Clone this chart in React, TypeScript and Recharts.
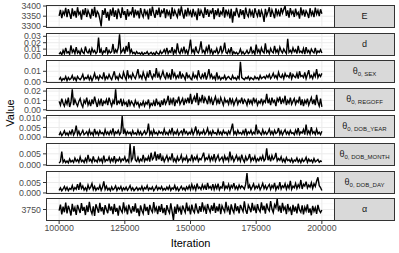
import { LineChart, Line, XAxis, YAxis, ReferenceLine } from "recharts";

// thinned MCMC draws, one every 500 iterations
const ITER_START = 100000;
const ITER_STEP = 500;

const E_VALUES = [
  3352, 3381, 3340, 3372, 3358, 3391, 3345, 3385, 3362, 3337, 3388, 3350, 3376, 3343, 3394, 3359, 3370, 3333, 3383, 3355,
  3390, 3346, 3378, 3361, 3338, 3386, 3352, 3396, 3344, 3374, 3363, 3335, 3300, 3380, 3357, 3389, 3342, 3371, 3328, 3384,
  3353, 3392, 3347, 3379, 3336, 3387, 3365, 3341, 3393, 3356, 3375, 3332, 3385, 3349, 3370, 3360, 3395, 3343, 3382, 3354,
  3377, 3339, 3390, 3362, 3346, 3386, 3358, 3373, 3334, 3388, 3351, 3397, 3364, 3342, 3381, 3356, 3392, 3345, 3376, 3366,
  3389, 3340, 3383, 3357, 3372, 3336, 3394, 3350, 3378, 3361, 3345, 3387, 3353, 3398, 3363, 3338, 3382, 3349, 3391, 3359,
  3374, 3344, 3386, 3355, 3368, 3331, 3389, 3352, 3379, 3362, 3341, 3393, 3357, 3384, 3347, 3375, 3365, 3390, 3336, 3380,
  3354, 3388, 3346, 3371, 3360, 3395, 3343, 3382, 3358, 3376, 3339, 3386, 3318, 3373, 3351, 3391, 3364, 3344, 3385, 3356,
  3380, 3337, 3392, 3361, 3348, 3387, 3355, 3374, 3342, 3389, 3366, 3350, 3383, 3345, 3378, 3359, 3322, 3386, 3353, 3371,
  3394, 3347, 3381, 3362, 3340, 3388, 3357, 3376, 3349, 3391, 3365, 3384, 3400, 3352, 3379, 3343, 3390, 3361, 3374, 3346,
  3387, 3358, 3369, 3338, 3393, 3354, 3382, 3348, 3376, 3363, 3341, 3389, 3356, 3372, 3345, 3392, 3360, 3379, 3350, 3384,
  3362,
];

const D_VALUES = [
  0.002, 0.005, 0.001, 0.008, 0.003, 0.012, 0.004, 0.006, 0.002, 0.016, 0.005, 0.009, 0.003, 0.013, 0.004, 0.007, 0.002, 0.010, 0.005, 0.003,
  0.014, 0.006, 0.004, 0.009, 0.002, 0.011, 0.005, 0.008, 0.003, 0.006, 0.028, 0.004, 0.010, 0.002, 0.007, 0.005, 0.013, 0.003, 0.008, 0.004,
  0.006, 0.018, 0.003, 0.009, 0.005, 0.012, 0.033, 0.004, 0.007, 0.011, 0.003, 0.015, 0.006, 0.021, 0.004, 0.009, 0.003, 0.005, 0.002, 0.006,
  0.003, 0.004, 0.002, 0.005, 0.001, 0.004, 0.003, 0.006, 0.002, 0.003, 0.005, 0.002, 0.004, 0.001, 0.006, 0.003, 0.002, 0.007, 0.003, 0.005,
  0.009, 0.004, 0.012, 0.003, 0.007, 0.005, 0.013, 0.002, 0.008, 0.004, 0.019, 0.006, 0.003, 0.010, 0.005, 0.014, 0.004, 0.008, 0.002, 0.011,
  0.025, 0.005, 0.009, 0.003, 0.014, 0.006, 0.004, 0.010, 0.022, 0.005, 0.008, 0.003, 0.012, 0.006, 0.017, 0.004, 0.009, 0.002, 0.007, 0.005,
  0.011, 0.003, 0.006, 0.015, 0.004, 0.008, 0.020, 0.005, 0.003, 0.009, 0.004, 0.013, 0.002, 0.006, 0.003, 0.005, 0.002, 0.004, 0.010, 0.003,
  0.006, 0.002, 0.004, 0.008, 0.003, 0.005, 0.014, 0.004, 0.007, 0.002, 0.017, 0.005, 0.009, 0.003, 0.012, 0.006, 0.004, 0.019, 0.005, 0.008,
  0.003, 0.011, 0.006, 0.004, 0.015, 0.005, 0.009, 0.003, 0.013, 0.007, 0.004, 0.010, 0.006, 0.003, 0.026, 0.005, 0.008, 0.004, 0.012, 0.006,
  0.009, 0.003, 0.015, 0.005, 0.007, 0.004, 0.011, 0.002, 0.013, 0.005, 0.008, 0.003, 0.010, 0.006, 0.004, 0.012, 0.003, 0.007, 0.005, 0.009,
  0.004,
];

const SEX_VALUES = [
  0.002, 0.004, 0.001, 0.003, 0.002, 0.005, 0.001, 0.004, 0.002, 0.003, 0.006, 0.002, 0.004, 0.001, 0.005, 0.003, 0.002, 0.004, 0.007, 0.002,
  0.004, 0.003, 0.006, 0.002, 0.005, 0.001, 0.004, 0.008, 0.003, 0.005, 0.002, 0.006, 0.004, 0.003, 0.009, 0.002, 0.005, 0.003, 0.007, 0.004,
  0.002, 0.006, 0.010, 0.003, 0.005, 0.002, 0.007, 0.004, 0.003, 0.009, 0.005, 0.002, 0.011, 0.004, 0.006, 0.003, 0.008, 0.005, 0.003, 0.007,
  0.012, 0.004, 0.006, 0.003, 0.009, 0.005, 0.002, 0.008, 0.004, 0.011, 0.006, 0.003, 0.007, 0.005, 0.013, 0.004, 0.008, 0.003, 0.006, 0.010,
  0.005, 0.003, 0.009, 0.004, 0.007, 0.002, 0.012, 0.005, 0.008, 0.003, 0.006, 0.004, 0.010, 0.003, 0.007, 0.005, 0.002, 0.009, 0.004, 0.006,
  0.003, 0.002, 0.008, 0.004, 0.006, 0.003, 0.011, 0.005, 0.003, 0.007, 0.004, 0.009, 0.002, 0.006, 0.012, 0.004, 0.007, 0.003, 0.005, 0.002,
  0.009, 0.003, 0.005, 0.002, 0.004, 0.003, 0.006, 0.002, 0.004, 0.005, 0.003, 0.002, 0.006, 0.003, 0.004, 0.002, 0.005, 0.003, 0.019, 0.004,
  0.003, 0.002, 0.004, 0.003, 0.005, 0.002, 0.004, 0.003, 0.002, 0.005, 0.003, 0.004, 0.002, 0.006, 0.003, 0.004, 0.005, 0.003, 0.006, 0.004,
  0.007, 0.003, 0.005, 0.008, 0.004, 0.006, 0.003, 0.009, 0.005, 0.004, 0.007, 0.003, 0.008, 0.005, 0.006, 0.004, 0.009, 0.003, 0.007, 0.005,
  0.004, 0.008, 0.003, 0.010, 0.005, 0.006, 0.004, 0.009, 0.003, 0.007, 0.011, 0.004, 0.006, 0.003, 0.008, 0.005, 0.012, 0.004, 0.007, 0.005,
  0.008,
];

const REGOFF_VALUES = [
  0.009, 0.005, 0.012, 0.007, 0.004, 0.010, 0.006, 0.013, 0.003, 0.008, 0.022, 0.005, 0.011, 0.007, 0.004, 0.009, 0.012, 0.006, 0.003, 0.010,
  0.007, 0.013, 0.005, 0.009, 0.004, 0.011, 0.006, 0.014, 0.008, 0.003, 0.010, 0.006, 0.012, 0.004, 0.009, 0.007, 0.011, 0.005, 0.013, 0.008,
  0.004, 0.010, 0.006, 0.022, 0.005, 0.009, 0.007, 0.012, 0.004, 0.010, 0.006, 0.008, 0.003, 0.011, 0.005, 0.009, 0.007, 0.004, 0.010, 0.006,
  0.008, 0.003, 0.007, 0.005, 0.009, 0.004, 0.008, 0.006, 0.011, 0.003, 0.007, 0.005, 0.009, 0.004, 0.012, 0.006, 0.008, 0.003, 0.010, 0.005,
  0.012, 0.006, 0.009, 0.015, 0.005, 0.011, 0.007, 0.013, 0.004, 0.010, 0.008, 0.014, 0.006, 0.009, 0.012, 0.005, 0.011, 0.008, 0.013, 0.007,
  0.017, 0.006, 0.011, 0.014, 0.008, 0.018, 0.005, 0.012, 0.009, 0.016, 0.007, 0.013, 0.010, 0.006, 0.015, 0.008, 0.012, 0.005, 0.010, 0.014,
  0.007, 0.011, 0.006, 0.013, 0.009, 0.005, 0.012, 0.008, 0.010, 0.006, 0.013, 0.007, 0.011, 0.005, 0.009, 0.012, 0.006, 0.010, 0.008, 0.013,
  0.006, 0.011, 0.009, 0.005, 0.012, 0.007, 0.010, 0.006, 0.013, 0.008, 0.011, 0.005, 0.009, 0.007, 0.012, 0.006, 0.010, 0.008, 0.017, 0.007,
  0.011, 0.005, 0.013, 0.008, 0.010, 0.004, 0.012, 0.009, 0.014, 0.006, 0.011, 0.008, 0.015, 0.005, 0.010, 0.007, 0.013, 0.006, 0.009, 0.012,
  0.006, 0.010, 0.008, 0.014, 0.005, 0.011, 0.004, 0.010, 0.007, 0.012, 0.005, 0.009, 0.013, 0.006, 0.011, 0.005, 0.016, 0.008, 0.004, 0.012,
  0.003,
];

const YEAR_VALUES = [
  0.001, 0.0025, 0.0008, 0.0018, 0.0032, 0.0012, 0.0022, 0.0009, 0.0028, 0.0015, 0.004, 0.0011, 0.0024, 0.006, 0.0013, 0.003, 0.0009, 0.0021, 0.0035, 0.0012,
  0.0019, 0.0028, 0.001, 0.0036, 0.0014, 0.0024, 0.0009, 0.0042, 0.0016, 0.0027, 0.0011, 0.0033, 0.0018, 0.0023, 0.001, 0.0038, 0.0015, 0.0026, 0.0012, 0.0031,
  0.0017, 0.0045, 0.0011, 0.0027, 0.0019, 0.0034, 0.0013, 0.0024, 0.011, 0.0016, 0.0038, 0.0012, 0.0029, 0.0018, 0.0025, 0.001, 0.0033, 0.0016, 0.0022, 0.0012,
  0.0036, 0.0014, 0.0028, 0.001, 0.0021, 0.0032, 0.0015, 0.0025, 0.007, 0.0013, 0.0029, 0.0011, 0.0037, 0.0017, 0.0024, 0.0012, 0.0031, 0.0019, 0.0026, 0.0014,
  0.0041, 0.0015, 0.0025, 0.0012, 0.0034, 0.0018, 0.0048, 0.0013, 0.0027, 0.0016, 0.0036, 0.0011, 0.0023, 0.0031, 0.0014, 0.0044, 0.0019, 0.0028, 0.0012, 0.0025,
  0.0017, 0.0039, 0.0013, 0.0029, 0.0055, 0.0016, 0.0033, 0.0012, 0.0026, 0.0018, 0.0037, 0.0014, 0.0024, 0.0045, 0.0015, 0.0028, 0.0011, 0.0034, 0.0019, 0.0023,
  0.0013, 0.0038, 0.0016, 0.0027, 0.0012, 0.0034, 0.0019, 0.0025, 0.0011, 0.0031, 0.0017, 0.0042, 0.007, 0.0015, 0.0028, 0.0012, 0.0035, 0.0018, 0.0024, 0.0014,
  0.0032, 0.0016, 0.0044, 0.0012, 0.0027, 0.0019, 0.0036, 0.0013, 0.0025, 0.0017, 0.0065, 0.0015, 0.0033, 0.0021, 0.0012, 0.0038, 0.0016, 0.0028, 0.0014, 0.0024,
  0.0042, 0.0015, 0.0029, 0.0012, 0.0035, 0.0018, 0.0024, 0.0047, 0.0014, 0.0031, 0.0011, 0.0026, 0.0038, 0.0016, 0.0028, 0.0013, 0.0034, 0.0019, 0.0023, 0.0012,
  0.0036, 0.0018, 0.0047, 0.0014, 0.0027, 0.0021, 0.0039, 0.0013, 0.0065, 0.0017, 0.0032, 0.0015, 0.0052, 0.0019, 0.0028, 0.0014, 0.0041, 0.0017, 0.0025, 0.0013,
  0.003,
];

const MONTH_VALUES = [
  0.0008, 0.0015, 0.006, 0.0012, 0.0022, 0.001, 0.0018, 0.0009, 0.0027, 0.0013, 0.002, 0.0011, 0.0031, 0.0016, 0.0024, 0.0012, 0.0036, 0.0015, 0.0021, 0.0011,
  0.0029, 0.0014, 0.0045, 0.0018, 0.0025, 0.0012, 0.0038, 0.0016, 0.0022, 0.0013, 0.0033, 0.0017, 0.0027, 0.0011, 0.0042, 0.0015, 0.0024, 0.0019, 0.0035, 0.0013,
  0.0028, 0.0016, 0.0039, 0.0012, 0.0025, 0.0018, 0.0032, 0.0014, 0.0027, 0.0021, 0.0036, 0.0015, 0.0024, 0.0013, 0.0094, 0.0019, 0.0031, 0.0085, 0.0022, 0.0016,
  0.0034, 0.0014, 0.0026, 0.0018, 0.0045, 0.0016, 0.0029, 0.0021, 0.0038, 0.0015, 0.0055, 0.0024, 0.0032, 0.006, 0.0019, 0.0048, 0.0025, 0.0052, 0.0018, 0.0036,
  0.0015, 0.0029, 0.0042, 0.0018, 0.0033, 0.0024, 0.0052, 0.0017, 0.0028, 0.0013, 0.0037, 0.0019, 0.0026, 0.0044, 0.0016, 0.0031, 0.0022, 0.0039, 0.0014, 0.0027,
  0.0021, 0.0046, 0.0017, 0.0034, 0.0024, 0.0041, 0.0016, 0.0029, 0.0023, 0.0038, 0.0055, 0.0019, 0.0032, 0.0025, 0.0043, 0.0018, 0.0036, 0.0022, 0.0049, 0.0017,
  0.0031, 0.0044, 0.0019, 0.0027, 0.0035, 0.0015, 0.0041, 0.0023, 0.0033, 0.0018, 0.006, 0.0025, 0.0038, 0.0016, 0.0029, 0.0043, 0.0021, 0.0034, 0.0017, 0.0046,
  0.0024, 0.0013, 0.0037, 0.0021, 0.0029, 0.0049, 0.0017, 0.0032, 0.0022, 0.0039, 0.0015, 0.0028, 0.0019, 0.0035, 0.0023, 0.0041, 0.0018, 0.0027, 0.0075, 0.0021,
  0.0038, 0.0016, 0.0042, 0.0024, 0.0031, 0.0054, 0.0018, 0.0029, 0.0021, 0.0037, 0.0015, 0.0026, 0.0012, 0.0033, 0.0019, 0.0024, 0.0014, 0.0028, 0.0011, 0.0022,
  0.0017, 0.0031, 0.0013, 0.0024, 0.001, 0.0027, 0.0015, 0.0021, 0.0034, 0.0012, 0.0026, 0.0016, 0.0022, 0.0011, 0.0029, 0.0014, 0.0019, 0.0025, 0.0012, 0.0018,
  0.0015,
];

const DAY_VALUES = [
  0.0012, 0.0024, 0.001, 0.0019, 0.0031, 0.0014, 0.0027, 0.0011, 0.0022, 0.0017, 0.0035, 0.0013, 0.0026, 0.0018, 0.0042, 0.0015, 0.005, 0.0021, 0.0033, 0.0014,
  0.0025, 0.0011, 0.0038, 0.0019, 0.0028, 0.0045, 0.0016, 0.0031, 0.0013, 0.0024, 0.0018, 0.0036, 0.0012, 0.0027, 0.0055, 0.0017, 0.0032, 0.0014, 0.0023, 0.0011,
  0.0029, 0.0015, 0.0021, 0.0034, 0.0012, 0.0026, 0.0018, 0.0031, 0.0011, 0.0024, 0.0016, 0.0028, 0.0013, 0.0022, 0.0035, 0.0014, 0.0025, 0.0011, 0.0019, 0.0027,
  0.0013, 0.0023, 0.0016, 0.0032, 0.0012, 0.0026, 0.0019, 0.0035, 0.0014, 0.0024, 0.0017, 0.0029, 0.0011, 0.0021, 0.0033, 0.0015, 0.0026, 0.0018, 0.0031, 0.0013,
  0.0022, 0.0014, 0.0028, 0.0017, 0.0033, 0.0012, 0.0024, 0.0019, 0.0036, 0.0015, 0.0027, 0.0011, 0.0021, 0.0032, 0.0016, 0.0025, 0.0013, 0.0029, 0.0018, 0.0034,
  0.0016, 0.0041, 0.0019, 0.0033, 0.0014, 0.0045, 0.0022, 0.0028, 0.0017, 0.0039, 0.0021, 0.0035, 0.0015, 0.0048, 0.0023, 0.0031, 0.0018, 0.0042, 0.0016, 0.0037,
  0.0021, 0.0044, 0.0015, 0.0029, 0.0024, 0.0055, 0.0018, 0.0033, 0.0022, 0.0041, 0.0016, 0.0036, 0.0025, 0.0047, 0.0019, 0.0031, 0.0017, 0.0038, 0.0023, 0.0034,
  0.0027, 0.0018, 0.0042, 0.0095, 0.0021, 0.0037, 0.0016, 0.0029, 0.0043, 0.0019, 0.0033, 0.0024, 0.0039, 0.0015, 0.0028, 0.0046, 0.0021, 0.0035, 0.0018, 0.0031,
  0.0041, 0.0017, 0.0036, 0.0024, 0.0048, 0.0015, 0.0032, 0.0022, 0.0052, 0.0019, 0.0034, 0.0026, 0.0044, 0.0018, 0.0037, 0.0023, 0.0058, 0.0017, 0.0033, 0.0025,
  0.0046, 0.0021, 0.0039, 0.0027, 0.0062, 0.0019, 0.0041, 0.0033, 0.0054, 0.0024, 0.0038, 0.0028, 0.0049, 0.0022, 0.0044, 0.0031, 0.0057, 0.0075, 0.0035, 0.0026,
  0.0012,
];

const ALPHA_VALUES = [
  3745, 3771, 3729, 3762, 3738, 3780, 3733, 3766, 3749, 3724, 3775, 3741, 3758, 3727, 3770, 3752, 3735, 3778, 3744, 3761,
  3726, 3768, 3739, 3783, 3747, 3731, 3764, 3722, 3773, 3755, 3736, 3779, 3742, 3760, 3728, 3769, 3750, 3734, 3776, 3745,
  3763, 3730, 3774, 3740, 3757, 3723, 3767, 3748, 3737, 3781, 3744, 3759, 3729, 3771, 3751, 3733, 3765, 3741, 3777, 3736,
  3755, 3721, 3768, 3746, 3732, 3775, 3743, 3761, 3727, 3770, 3749, 3738, 3782, 3744, 3759, 3730, 3766, 3740, 3773, 3734,
  3757, 3726, 3769, 3748, 3735, 3777, 3742, 3704, 3763, 3731, 3772, 3745, 3758, 3728, 3767, 3751, 3737, 3780, 3743, 3760,
  3729, 3771, 3746, 3736, 3776, 3750, 3733, 3765, 3740, 3781, 3747, 3762, 3731, 3774, 3753, 3738, 3768, 3744, 3779, 3735,
  3763, 3742, 3775, 3730, 3766, 3752, 3739, 3783, 3746, 3760, 3728, 3772, 3749, 3736, 3777, 3743, 3764, 3733, 3770, 3754,
  3741, 3785, 3748, 3731, 3769, 3756, 3738, 3779, 3745, 3762, 3734, 3773, 3750, 3740, 3781, 3747, 3766, 3732, 3776, 3753,
  3744, 3787, 3752, 3737, 3771, 3758, 3796, 3742, 3767, 3735, 3779, 3749, 3761, 3730, 3774, 3746, 3757, 3726, 3770, 3741,
  3763, 3733, 3775, 3748, 3738, 3768, 3729, 3760, 3744, 3772, 3736, 3755, 3725, 3766, 3742, 3758, 3731, 3770, 3747, 3737,
  3748,
];

const X_TICKS = [100000, 125000, 150000, 175000, 200000];
const X_MINOR = [112500, 137500, 162500, 187500];

const iterations = E_VALUES.map((_, i) => ITER_START + i * ITER_STEP);

const fmt0 = (v: number) => String(v);
const fmt2 = (v: number) => v.toFixed(2);
const fmt3 = (v: number) => v.toFixed(3);

const PANELS = [
  { key: "E", values: E_VALUES, domain: [3292, 3405], ticks: [3300, 3350, 3400], minor: [3325, 3375], fmt: fmt0 },
  { key: "d", values: D_VALUES, domain: [-0.0008, 0.0352], ticks: [0, 0.01, 0.02, 0.03], minor: [0.005, 0.015, 0.025], fmt: fmt2 },
  { key: "SEX", values: SEX_VALUES, domain: [-0.0012, 0.0208], ticks: [0, 0.01], minor: [0.005, 0.015], fmt: fmt2 },
  { key: "REGOFF", values: REGOFF_VALUES, domain: [-0.0013, 0.0233], ticks: [0, 0.01, 0.02], minor: [0.005, 0.015], fmt: fmt2 },
  { key: "DOB_YEAR", values: YEAR_VALUES, domain: [-0.0005, 0.0115], ticks: [0, 0.005, 0.01], minor: [0.0025, 0.0075], fmt: fmt3 },
  { key: "DOB_MONTH", values: MONTH_VALUES, domain: [-0.0005, 0.0099], ticks: [0, 0.005], minor: [0.0025, 0.0075], fmt: fmt3 },
  { key: "DOB_DAY", values: DAY_VALUES, domain: [-0.0005, 0.0105], ticks: [0, 0.005], minor: [0.0025, 0.0075], fmt: fmt3 },
  { key: "alpha", values: ALPHA_VALUES, domain: [3700, 3800], ticks: [3750], minor: [3725, 3775], fmt: fmt0 },
];

const FONT = '"Liberation Sans", Arial, sans-serif';
const PLOT_LEFT = 46;
const PLOT_RIGHT = 335;
const PANEL_H = 23;
const X_AXIS_H = 16;

const StripLabel = ({ name }: { name: string }) => {
  if (name === "E" || name === "d") return <span>{name}</span>;
  if (name === "alpha") return <span>α</span>;
  return (
    <span>
      θ
      <span style={{ fontSize: 6, position: "relative", top: 2 }}>0, {name}</span>
    </span>
  );
};

const TracePanel = ({ panel, top, showX }: { panel: (typeof PANELS)[number]; top: number; showX: boolean }) => {
  const data = iterations.map((iter, i) => ({ iter, value: panel.values[i] }));
  const h = PANEL_H + (showX ? X_AXIS_H : 0);
  return (
    <>
      <div style={{ position: "absolute", left: 0, top, width: PLOT_RIGHT, height: h }}>
        <LineChart width={PLOT_RIGHT} height={h} data={data} margin={{ top: 0, right: 0, bottom: 0, left: 0 }}>
          <XAxis
            dataKey="iter"
            type="number"
            domain={[95000, 205000]}
            ticks={X_TICKS}
            interval={0}
            hide={!showX}
            height={X_AXIS_H}
            tickSize={3}
            tickMargin={1}
            axisLine={false}
            tickLine={{ stroke: "#333333" }}
            tick={{ fill: "#4D4D4D", fontSize: 8.8, fontFamily: FONT }}
          />
          <YAxis
            type="number"
            domain={panel.domain}
            ticks={panel.ticks}
            interval={0}
            allowDataOverflow
            width={PLOT_LEFT}
            tickSize={3}
            tickMargin={2}
            axisLine={false}
            tickLine={{ stroke: "#333333" }}
            tickFormatter={panel.fmt}
            tick={{ fill: "#4D4D4D", fontSize: 8.8, fontFamily: FONT }}
          />
          {X_MINOR.map((v) => (
            <ReferenceLine key={"xm" + v} x={v} stroke="#F5F5F5" strokeWidth={0.6} />
          ))}
          {panel.minor.map((v) => (
            <ReferenceLine key={"ym" + v} y={v} stroke="#F5F5F5" strokeWidth={0.6} />
          ))}
          {X_TICKS.map((v) => (
            <ReferenceLine key={"x" + v} x={v} stroke="#EBEBEB" strokeWidth={1} />
          ))}
          {panel.ticks.map((v) => (
            <ReferenceLine key={"y" + v} y={v} stroke="#EBEBEB" strokeWidth={1} />
          ))}
          <Line
            type="linear"
            dataKey="value"
            stroke="#000000"
            strokeWidth={1.4}
            strokeLinejoin="miter"
            dot={false}
            isAnimationActive={false}
          />
        </LineChart>
      </div>
      <div
        style={{
          position: "absolute",
          left: PLOT_LEFT,
          top,
          width: PLOT_RIGHT - PLOT_LEFT,
          height: PANEL_H,
          border: "1px solid #333333",
          boxSizing: "border-box",
          pointerEvents: "none",
        }}
      />
      <div
        style={{
          position: "absolute",
          left: PLOT_RIGHT - 1,
          top,
          width: 61,
          height: PANEL_H,
          background: "#D9D9D9",
          border: "1px solid #333333",
          boxSizing: "border-box",
          display: "flex",
          alignItems: "center",
          justifyContent: "center",
          fontSize: 9,
          color: "#1A1A1A",
          lineHeight: 1,
          whiteSpace: "nowrap",
        }}
      >
        <StripLabel name={panel.key} />
      </div>
    </>
  );
};

const PANEL_TOPS = [5, 33, 60, 88, 115, 143, 171, 198];

export default function App() {
  return (
    <div
      style={{
        position: "absolute",
        left: 0,
        top: 0,
        width: 399,
        height: 253,
        background: "#ffffff",
        fontFamily: FONT,
        overflow: "hidden",
      }}
    >
      <style>{`.recharts-surface { overflow: visible; } .recharts-wrapper { overflow: visible; }`}</style>
      {PANELS.map((p, i) => (
        <TracePanel key={p.key} panel={p} top={PANEL_TOPS[i]} showX={i === PANELS.length - 1} />
      ))}
      <div
        style={{
          position: "absolute",
          left: 10,
          top: 113,
          transform: "translate(-50%, -50%) rotate(-90deg)",
          fontSize: 11,
          color: "#000",
          whiteSpace: "nowrap",
        }}
      >
        Value
      </div>
      <div
        style={{
          position: "absolute",
          left: (PLOT_LEFT + PLOT_RIGHT) / 2,
          top: 243,
          transform: "translate(-50%, -50%)",
          fontSize: 11,
          color: "#000",
          whiteSpace: "nowrap",
        }}
      >
        Iteration
      </div>
    </div>
  );
}
